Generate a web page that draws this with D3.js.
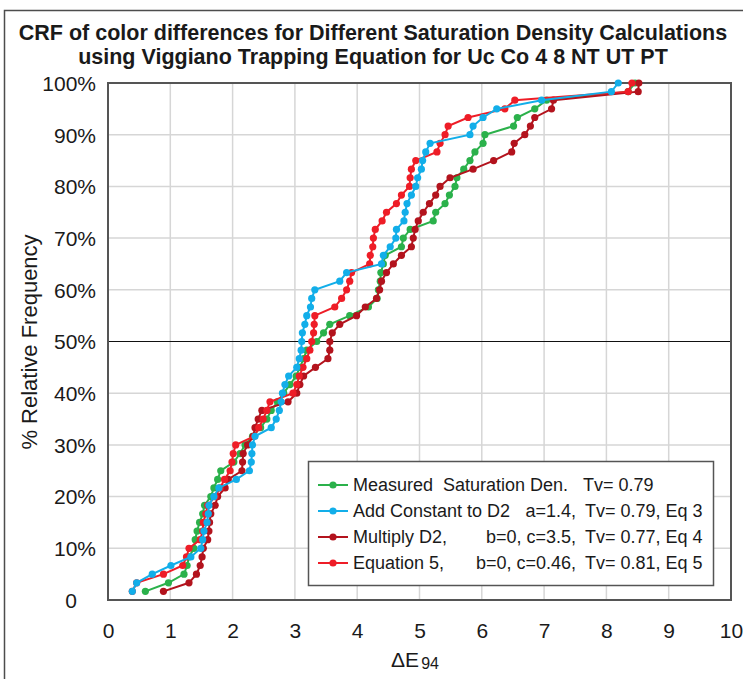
<!DOCTYPE html>
<html lang="en">
	<head>
		<meta charset="utf-8">
		<title>CRF of color differences</title>
		<script type="text/javascript" src="https://cdn.jsdelivr.net/npm/d3@7"></script>
		<style type="text/css">
			body { margin: 0; background: #fff; }
			text { font-family: "Liberation Sans", Arial, sans-serif; }
		</style>
	</head>
	<body>
        <div id="chart"></div>
        <script type="text/javascript">

        // cumulative relative frequency (%) - 60 samples per series
        var crfPct = [1.67, 3.33, 5, 6.67, 8.33, 10, 11.67, 13.33, 15, 16.67,
            18.33, 20, 21.67, 23.33, 25, 26.67, 28.33, 30, 31.67, 33.33,
            35, 36.67, 38.33, 40, 41.67, 43.33, 45, 46.67, 48.33, 50,
            51.67, 53.33, 55, 56.67, 58.33, 60, 61.67, 63.33, 65, 66.67,
            68.33, 70, 71.67, 73.33, 75, 76.67, 78.33, 80, 81.67, 83.33,
            85, 86.67, 88.33, 90, 91.67, 93.33, 95, 96.67, 98.33, 100];

        // sorted color differences (dE94)
        var measuredDE = [0.60, 0.97, 1.22, 1.27, 1.30, 1.38, 1.40, 1.43, 1.47, 1.52,
            1.55, 1.65, 1.70, 1.76, 1.81, 2.02, 2.12, 2.20, 2.32, 2.45,
            2.55, 2.62, 2.72, 2.82, 2.92, 3.02, 3.08, 3.14, 3.19, 3.35,
            3.46, 3.56, 3.88, 4.18, 4.32, 4.34, 4.37, 4.38, 4.42, 4.45,
            4.71, 4.74, 4.85, 5.22, 5.26, 5.41, 5.48, 5.57, 5.60, 5.71,
            5.81, 5.89, 6.02, 6.05, 6.51, 6.57, 6.85, 7.04, 8.35, 8.46];
        var addConstDE = [0.39, 0.46, 0.71, 1.01, 1.33, 1.49, 1.52, 1.54, 1.59, 1.61,
            1.62, 1.70, 1.78, 2.06, 2.27, 2.30, 2.31, 2.32, 2.36, 2.62,
            2.70, 2.75, 2.78, 2.80, 2.84, 2.90, 3.03, 3.07, 3.10, 3.11,
            3.12, 3.16, 3.19, 3.25, 3.27, 3.32, 3.72, 3.83, 4.39, 4.42,
            4.53, 4.62, 4.63, 4.75, 4.77, 4.80, 4.87, 4.94, 4.97, 5.03,
            5.05, 5.10, 5.17, 5.81, 5.86, 6.02, 6.24, 6.96, 8.08, 8.19];
        var multiplyDE = [0.89, 1.30, 1.42, 1.48, 1.51, 1.53, 1.60, 1.62, 1.63, 1.65,
            1.72, 1.76, 1.88, 1.93, 2.15, 2.16, 2.17, 2.24, 2.33, 2.36,
            2.41, 2.47, 2.89, 3.03, 3.08, 3.14, 3.33, 3.53, 3.56, 3.56,
            3.60, 3.72, 3.99, 4.13, 4.31, 4.36, 4.39, 4.47, 4.58, 4.71,
            4.87, 4.90, 4.93, 4.98, 5.06, 5.16, 5.26, 5.33, 5.49, 5.86,
            6.19, 6.48, 6.52, 6.69, 6.78, 6.85, 7.12, 7.15, 8.51, 8.52];
        var eq5DE = [0.39, 0.46, 0.89, 1.20, 1.26, 1.30, 1.48, 1.52, 1.53, 1.57,
            1.60, 1.72, 1.80, 1.87, 1.96, 1.99, 2.01, 2.05, 2.35, 2.42,
            2.49, 2.55, 2.60, 2.97, 3.03, 3.07, 3.13, 3.19, 3.24, 3.27,
            3.30, 3.31, 3.32, 3.64, 3.75, 3.83, 3.88, 3.91, 4.20, 4.21,
            4.25, 4.26, 4.29, 4.40, 4.47, 4.63, 4.71, 4.84, 4.85, 4.87,
            4.94, 5.28, 5.33, 5.41, 5.46, 5.78, 6.37, 6.53, 8.35, 8.41];

        var seriesNames = ["Measured  Saturation Den.", "Add Constant to D2", "Multiply D2,", "Equation 5,"];
        var seriesParams = ["", "a=1.4,", "b=0, c=3.5,", "b=0, c=0.46,"];
        var seriesTv = ["Tv= 0.79", "Tv= 0.79, Eq 3", "Tv= 0.77, Eq 4", "Tv= 0.81, Eq 5"];
        var seriesColors = ["#2bb14b", "#12aee9", "#b3131d", "#ee1d27"];
        var drawOrder = [0, 2, 3, 1];  // blue ends up on top, as in the original

        var xTicks = [0, 1, 2, 3, 4, 5, 6, 7, 8, 9, 10];
        var yTicks = [0, 10, 20, 30, 40, 50, 60, 70, 80, 90, 100];
        var yTickLabels = ["0", "10%", "20%", "30%", "40%", "50%", "60%", "70%", "80%", "90%", "100%"];

        var W = 743, H = 679;
        var plot = { left: 108, right: 731, top: 83, bottom: 600 };

        var svg = d3.select("#chart").append("svg")
            .attr("width", W)
            .attr("height", H);

        // outer chart frame
        svg.append("rect")
            .attr("x", 4.5).attr("y", 10.5)
            .attr("width", 760).attr("height", 700)
            .attr("fill", "#fff").attr("stroke", "#4d4d4d").attr("stroke-width", 1.5);

        var x = d3.scaleLinear().domain([0, 10]).range([plot.left, plot.right]);
        var y = d3.scaleLinear().domain([0, 100]).range([plot.bottom, plot.top]);

        drawTitle();
        drawGrid();
        drawAxes();
        drawSeries([measuredDE, addConstDE, multiplyDE, eq5DE]);
        drawLegend();

        function drawTitle() {
            var t = svg.append("text")
                .attr("text-anchor", "middle")
                .attr("font-weight", "bold")
                .attr("font-size", 21.5)
                .attr("fill", "#1a1a1a");
            t.append("tspan").attr("x", 373).attr("y", 40)
                .text("CRF of color differences for Different Saturation Density Calculations");
            t.append("tspan").attr("x", 373).attr("y", 64)
                .text("using Viggiano Trapping Equation for Uc Co 4 8 NT UT PT");
        }

        function drawGrid() {
            var g = svg.append("g");
            g.selectAll("line.vx")
                .data(xTicks.filter(function (d) { return d > 0 && d < 10; }))
                .enter().append("line")
                .attr("x1", function (d) { return x(d); })
                .attr("x2", function (d) { return x(d); })
                .attr("y1", plot.top).attr("y2", plot.bottom)
                .attr("stroke", "#d6d6d6").attr("stroke-width", 1.5);
            g.selectAll("line.hy")
                .data(yTicks.filter(function (d) { return d > 0 && d < 100; }))
                .enter().append("line")
                .attr("x1", plot.left).attr("x2", plot.right)
                .attr("y1", function (d) { return y(d); })
                .attr("y2", function (d) { return y(d); })
                .attr("stroke", function (d) { return d === 50 ? "#111" : "#d6d6d6"; })
                .attr("stroke-width", function (d) { return d === 50 ? 1.2 : 1.5; });
            // plot frame
            svg.append("rect")
                .attr("x", plot.left).attr("y", plot.top)
                .attr("width", plot.right - plot.left)
                .attr("height", plot.bottom - plot.top)
                .attr("fill", "none").attr("stroke", "#555").attr("stroke-width", 2);
        }

        function drawAxes() {
            var xAxis = d3.axisBottom(x).tickValues(xTicks).tickSize(0).tickPadding(0)
                .tickFormat(d3.format("d"));
            var gx = svg.append("g").attr("transform", "translate(0," + (plot.bottom + 38) + ")").call(xAxis);
            gx.select(".domain").remove();
            gx.selectAll("text").attr("font-size", 21).attr("fill", "#1a1a1a")
                .attr("font-family", "Liberation Sans, Arial, sans-serif").attr("dy", 0);

            var yAxis = d3.axisLeft(y).tickValues(yTicks).tickSize(0).tickPadding(0)
                .tickFormat(function (d, i) { return yTickLabels[i]; });
            var gy = svg.append("g").attr("transform", "translate(96,0)").call(yAxis);
            gy.select(".domain").remove();
            gy.selectAll("text").attr("font-size", 21).attr("fill", "#1a1a1a")
                .attr("font-family", "Liberation Sans, Arial, sans-serif").attr("dy", "0.35em")
                .attr("x", function (d) { return d === 0 ? -19 : 0; });

            // axis titles
            svg.append("text")
                .attr("transform", "translate(37,342) rotate(-90)")
                .attr("text-anchor", "middle")
                .attr("font-size", 22).attr("fill", "#1a1a1a")
                .text("% Relative Frequency");
            var xt = svg.append("text")
                .attr("x", 415).attr("y", 667)
                .attr("text-anchor", "middle")
                .attr("fill", "#1a1a1a");
            xt.append("tspan").attr("font-size", 21).text("\u0394E");
            xt.append("tspan").attr("font-size", 16).attr("dx", 2).attr("dy", 2).text("94");
        }

        function drawSeries(allDE) {
            var line = d3.line()
                .x(function (d) { return x(d[0]); })
                .y(function (d) { return y(d[1]); });
            drawOrder.forEach(function (s) {
                var pts = allDE[s].map(function (v, i) { return [v, crfPct[i]]; });
                var g = svg.append("g");
                g.append("path")
                    .datum(pts)
                    .attr("d", line)
                    .attr("fill", "none")
                    .attr("stroke", seriesColors[s])
                    .attr("stroke-width", 2);
                g.selectAll("circle")
                    .data(pts)
                    .enter().append("circle")
                    .attr("cx", function (d) { return x(d[0]); })
                    .attr("cy", function (d) { return y(d[1]); })
                    .attr("r", 3.6)
                    .attr("fill", seriesColors[s]);
            });
        }

        function drawLegend() {
            var lg = svg.append("g");
            lg.append("rect")
                .attr("x", 308.5).attr("y", 461.5)
                .attr("width", 405).attr("height", 124)
                .attr("fill", "#fff").attr("stroke", "#555").attr("stroke-width", 1.5);
            var rowY = [485, 511, 537, 563];
            for (var i = 0; i < seriesNames.length; i++) {
                lg.append("line")
                    .attr("x1", 318).attr("x2", 348)
                    .attr("y1", rowY[i]).attr("y2", rowY[i])
                    .attr("stroke", seriesColors[i]).attr("stroke-width", 2);
                lg.append("circle")
                    .attr("cx", 333).attr("cy", rowY[i]).attr("r", 3.6)
                    .attr("fill", seriesColors[i]);
                var ty = rowY[i] + 6;
                lg.append("text").attr("x", 353).attr("y", ty)
                    .attr("font-size", 18).attr("fill", "#1a1a1a")
                    .style("white-space", "pre")
                    .text(seriesNames[i]);
                lg.append("text").attr("x", 576).attr("y", ty)
                    .attr("text-anchor", "end")
                    .attr("font-size", 18).attr("fill", "#1a1a1a")
                    .text(seriesParams[i]);
                lg.append("text").attr("x", i === 0 ? 583 : 585).attr("y", ty)
                    .attr("font-size", 18).attr("fill", "#1a1a1a")
                    .text(seriesTv[i]);
            }
        }

        </script>
	</body>
</html>
